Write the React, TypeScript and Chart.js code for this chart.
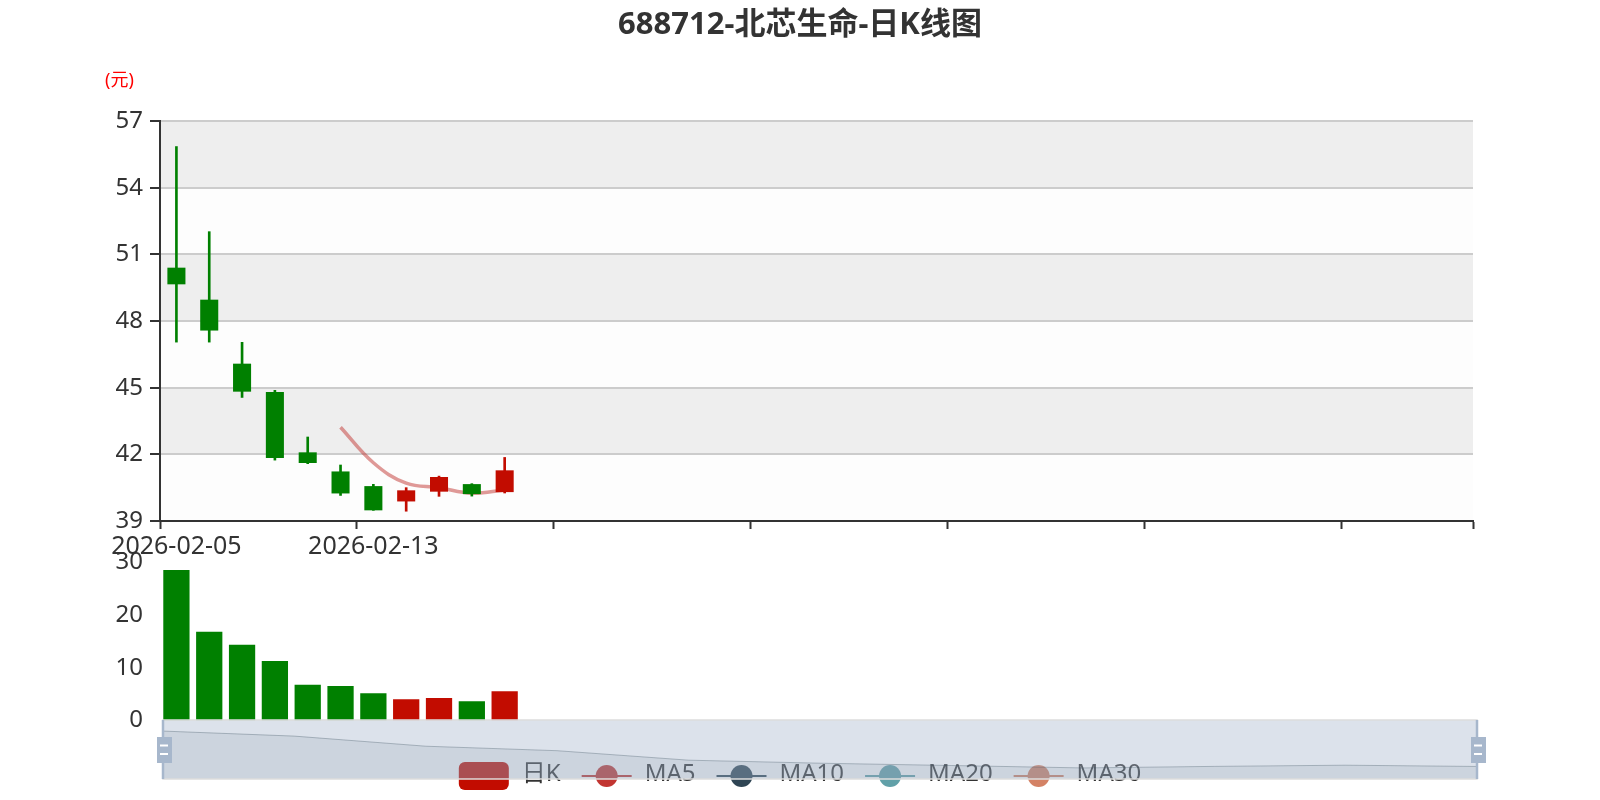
import React, { useEffect, useRef } from 'react';
import { Chart, registerables } from 'chart.js';

Chart.register(...registerables);

const FONT = "'Noto Sans', 'Noto Sans CJK SC', sans-serif";
Chart.defaults.font.family = FONT;
Chart.defaults.font.size = 24;

// ---------- data ----------
const TITLE = '688712-北芯生命-日K线图';
const UNIT = '(元)';
const dates = [
  '2026-02-05', '2026-02-06', '2026-02-09', '2026-02-10', '2026-02-11', '2026-02-12',
  '2026-02-13', '2026-02-24', '2026-02-25', '2026-02-26', '2026-02-27',
];
const SLOT_COUNT = 40; // number of category slots on the x axis
const openPrices = [50.4, 48.96, 46.08, 44.8, 42.09, 41.23, 40.57, 39.88, 40.32, 40.66, 40.3];
const closePrices = [49.65, 47.57, 44.82, 41.83, 41.61, 40.24, 39.48, 40.38, 40.98, 40.21, 41.28];
const lowPrices = [47.05, 47.05, 44.56, 41.74, 41.58, 40.15, 39.48, 39.44, 40.11, 40.12, 40.26];
const highPrices = [55.85, 52.02, 47.04, 44.88, 42.78, 41.52, 40.65, 40.5, 41.02, 40.68, 41.86];
const ma5 = [null, null, null, null, null, 43.22, 41.62, 40.7, 40.5, 40.25, 40.4];
const volumes = [28.5, 16.8, 14.36, 11.27, 6.78, 6.53, 5.15, 4.0, 4.26, 3.64, 5.53];
const priceAxis = { min: 39, max: 57, step: 3 };
const volumeAxis = { min: 0, max: 30, step: 10 };
const shadowAxis = { min: 36.72, max: 53.56 };
const legendNames = ['日K', 'MA5', 'MA10', 'MA20', 'MA30'];
const LABEL_EVERY = 6;

// ---------- styles ----------
const UP = '#c20c00';
const DOWN = '#008000';
const legendColors = [UP, '#c23531', '#2f4554', '#61a0a8', '#d48265'];

const labels = [...dates, ...Array(SLOT_COUNT - dates.length).fill('')];
const candleColors = openPrices.map((o, i) => (closePrices[i] >= o ? UP : DOWN));

const bandsPlugin = {
  id: 'bands',
  beforeDraw(chart: any) {
    const { ctx, chartArea: a, scales } = chart;
    const y = scales.y;
    const t = y.ticks;
    ctx.save();
    for (let i = 0; i < t.length - 1; i++) {
      const y0 = y.getPixelForValue(t[i].value);
      const y1 = y.getPixelForValue(t[i + 1].value);
      ctx.fillStyle = i % 2 === 0 ? 'rgba(250,250,250,0.3)' : 'rgba(200,200,200,0.3)';
      ctx.fillRect(a.left, y1, a.right - a.left, y0 - y1);
    }
    ctx.restore();
  },
};

const mainTextPlugin = {
  id: 'mainText',
  afterDraw(chart: any) {
    const { ctx } = chart;
    ctx.save();
    ctx.textAlign = 'center';
    ctx.textBaseline = 'middle';
    ctx.fillStyle = '#333';
    ctx.font = `bold 31px ${FONT}`;
    ctx.fillText(TITLE, 800, 25);
    ctx.fillStyle = '#ff0000';
    ctx.font = `18px ${FONT}`;
    ctx.fillText(UNIT, 119.5, 80.5);
    ctx.restore();
  },
};

const legendPlugin = {
  id: 'customLegend',
  afterDraw(chart: any) {
    const { ctx } = chart;
    ctx.save();
    ctx.font = `24px ${FONT}`;
    const iconW = 50;
    const textGap = 13;
    const itemGap = 21;
    const widths = legendNames.map((n) => ctx.measureText(n).width);
    const total = widths.reduce((s, w) => s + iconW + textGap + w, 0) + itemGap * (legendNames.length - 1);
    let x = 800 - total / 2;
    const cy = 776;
    legendNames.forEach((name, i) => {
      const c = legendColors[i];
      if (i === 0) {
        ctx.fillStyle = c;
        ctx.beginPath();
        (ctx as any).roundRect(x, cy - 14, iconW, 28, 6);
        ctx.fill();
      } else {
        ctx.strokeStyle = c;
        ctx.lineWidth = 2;
        ctx.beginPath();
        ctx.moveTo(x, cy);
        ctx.lineTo(x + iconW, cy);
        ctx.stroke();
        ctx.fillStyle = c;
        ctx.beginPath();
        ctx.arc(x + iconW / 2, cy, 11, 0, Math.PI * 2);
        ctx.fill();
      }
      ctx.fillStyle = '#333';
      ctx.textAlign = 'left';
      ctx.textBaseline = 'middle';
      ctx.fillText(name, x + iconW + textGap, cy - 2);
      x += iconW + textGap + widths[i] + itemGap;
    });
    ctx.restore();
  },
};

const sliderPlugin = {
  id: 'slider',
  beforeDatasetsDraw(chart: any) {
    const { ctx, chartArea: a } = chart;
    ctx.save();
    ctx.fillStyle = 'rgba(167,183,204,0.4)';
    ctx.fillRect(a.left, a.top, a.right - a.left, a.bottom - a.top);
    ctx.restore();
  },
  afterDraw(chart: any) {
    const { ctx, chartArea: a } = chart;
    ctx.save();
    ctx.strokeStyle = '#ddd';
    ctx.lineWidth = 1.5;
    ctx.strokeRect(a.left, a.top, a.right - a.left, a.bottom - a.top);
    [a.left, a.right].forEach((hx: number) => {
      ctx.strokeStyle = '#a7b7cc';
      ctx.lineWidth = 2.5;
      ctx.beginPath();
      ctx.moveTo(hx, a.top);
      ctx.lineTo(hx, a.bottom);
      ctx.stroke();
      ctx.fillStyle = '#a7b7cc';
      ctx.fillRect(hx - 6, a.top + 17, 15, 26);
      ctx.strokeStyle = '#fff';
      ctx.lineWidth = 2;
      ctx.beginPath();
      ctx.moveTo(hx - 3, a.top + 25.5);
      ctx.lineTo(hx + 5, a.top + 25.5);
      ctx.moveTo(hx - 3, a.top + 34);
      ctx.lineTo(hx + 5, a.top + 34);
      ctx.stroke();
    });
    ctx.restore();
  },
};

const noPlugins = { legend: { display: false }, tooltip: { enabled: false }, title: { display: false } };

export default function App() {
  const mainRef = useRef<HTMLCanvasElement>(null);
  const volRef = useRef<HTMLCanvasElement>(null);
  const sliderRef = useRef<HTMLCanvasElement>(null);

  useEffect(() => {
    const tickColor = (ctx: any) =>
      ctx.index === undefined || ctx.index % LABEL_EVERY === 0 ? '#333' : 'rgba(0,0,0,0)';

    const main = new Chart(mainRef.current as HTMLCanvasElement, {
      type: 'bar',
      data: {
        labels,
        datasets: [
          {
            type: 'line',
            label: 'MA5',
            data: ma5 as any,
            borderColor: 'rgba(194,53,49,0.5)',
            borderWidth: 3.5,
            pointRadius: 0,
            tension: 0.4,
            order: 3,
          } as any,
          {
            type: 'bar',
            label: 'wick',
            data: lowPrices.map((l, i) => [l, highPrices[i]]) as any,
            backgroundColor: candleColors,
            barThickness: 2,
            grouped: false,
            order: 2,
          } as any,
          {
            type: 'bar',
            label: '日K',
            data: openPrices.map((o, i) => [o, closePrices[i]]) as any,
            backgroundColor: candleColors,
            barPercentage: 0.55,
            categoryPercentage: 1,
            grouped: false,
            order: 1,
          } as any,
        ],
      },
      options: {
        responsive: false,
        animation: false,
        layout: { padding: { left: 100, right: 127, top: 121, bottom: 239 } },
        plugins: noPlugins as any,
        scales: {
          x: {
            type: 'category',
            offset: true,
            grid: {
              offset: true,
              drawOnChartArea: false,
              tickLength: 8,
              tickWidth: 2,
              color: tickColor,
              tickColor: tickColor,
            },
            border: { color: '#333', width: 2 },
            ticks: {
              autoSkip: false,
              maxRotation: 0,
              minRotation: 0,
              padding: 3,
              color: '#333',
              font: { size: 25 },
              callback: (_v: any, i: number) => (i % LABEL_EVERY === 0 ? labels[i] : ''),
            },
            afterFit: (s: any) => {
              s.height = 40;
            },
          } as any,
          y: {
            min: priceAxis.min,
            max: priceAxis.max,
            ticks: { stepSize: priceAxis.step, padding: 7, color: '#333', font: { size: 24 } },
            grid: { color: '#ccc', lineWidth: 2, tickLength: 10, tickColor: '#333', tickWidth: 2 },
            border: { color: '#333', width: 2 },
            afterFit: (s: any) => {
              s.width = 60;
            },
          } as any,
        },
      },
      plugins: [bandsPlugin, mainTextPlugin],
    });

    const vol = new Chart(volRef.current as HTMLCanvasElement, {
      type: 'bar',
      data: {
        labels,
        datasets: [
          {
            label: 'volume',
            data: volumes,
            backgroundColor: candleColors,
            barPercentage: 0.8,
            categoryPercentage: 1,
          },
        ],
      },
      options: {
        responsive: false,
        animation: false,
        layout: { padding: { left: 100, right: 127, top: 562, bottom: 79.5 } },
        plugins: noPlugins as any,
        scales: {
          x: { type: 'category', display: false, offset: true } as any,
          y: {
            min: volumeAxis.min,
            max: volumeAxis.max,
            ticks: { stepSize: volumeAxis.step, padding: 17, color: '#333', font: { size: 24 } },
            grid: { display: false, drawTicks: false },
            border: { display: false },
            afterFit: (s: any) => {
              s.width = 60;
            },
          } as any,
        },
      },
      plugins: [legendPlugin],
    });

    const slider = new Chart(sliderRef.current as HTMLCanvasElement, {
      type: 'line',
      data: {
        datasets: [
          {
            label: 'shadow',
            data: openPrices.map((v, i) => ({ x: i, y: v })),
            borderColor: 'rgba(47,69,84,0.3)',
            borderWidth: 1,
            backgroundColor: 'rgba(47,69,84,0.09)',
            fill: 'start',
            pointRadius: 0,
            tension: 0,
          },
        ],
      },
      options: {
        responsive: false,
        animation: false,
        layout: { padding: { left: 163, right: 123, top: 720, bottom: 21 } },
        plugins: noPlugins as any,
        scales: {
          x: { type: 'linear', display: false, min: 0, max: dates.length - 1 },
          y: { type: 'linear', display: false, min: shadowAxis.min, max: shadowAxis.max },
        },
      },
      plugins: [sliderPlugin],
    });

    return () => {
      main.destroy();
      vol.destroy();
      slider.destroy();
    };
  }, []);

  const cs: React.CSSProperties = { position: 'absolute', left: 0, top: 0, width: 1600, height: 800 };
  return (
    <div style={{ position: 'absolute', left: 0, top: 0, width: 1600, height: 800, background: '#fff' }}>
      <canvas ref={mainRef} width={1600} height={800} style={cs} />
      <canvas ref={volRef} width={1600} height={800} style={cs} />
      <canvas ref={sliderRef} width={1600} height={800} style={cs} />
    </div>
  );
}
